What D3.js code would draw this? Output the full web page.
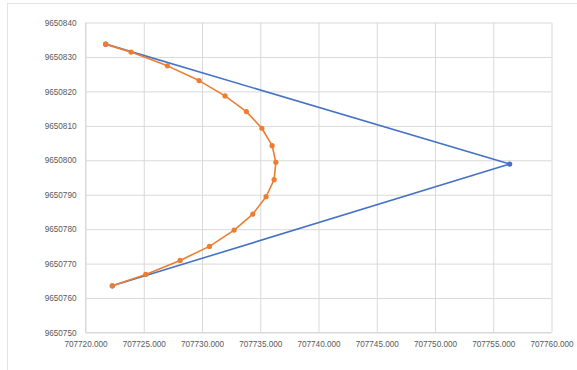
<!DOCTYPE html>
<html>
<head>
<meta charset="utf-8">
<script src="https://cdn.jsdelivr.net/npm/d3@7"></script>
<style>
  html, body { margin: 0; padding: 0; background: #fff; }
  svg { display: block; }
  .tick text { font-family: "Liberation Sans", Arial, sans-serif; font-size: 8.2px; fill: #595959; }
</style>
</head>
<body>
<svg id="chart" width="577" height="370"></svg>
<script>
// X tick labels and Y tick values
const xTicks = [707720, 707725, 707730, 707735, 707740, 707745, 707750, 707755, 707760];
const yTicks = [9650750, 9650760, 9650770, 9650780, 9650790, 9650800, 9650810, 9650820, 9650830, 9650840];

// Series 1 (blue): three vertices of the wedge
const blueX = [707721.74, 707756.41, 707722.30];
const blueY = [9650833.72, 9650798.90, 9650763.55];

// Series 2 (orange): curved arc of survey points
const orangeX = [707721.74, 707723.91, 707727.03, 707729.75, 707731.98, 707733.81, 707735.14, 707736.02, 707736.34,
                 707736.19, 707735.50, 707734.36, 707732.76, 707730.64, 707728.12, 707725.17, 707722.30];
const orangeY = [9650833.72, 9650831.40, 9650827.41, 9650823.14, 9650818.69, 9650814.13, 9650809.30, 9650804.24, 9650799.42,
                 9650794.36, 9650789.42, 9650784.39, 9650779.74, 9650775.00, 9650770.93, 9650766.86, 9650763.55];

const svg = d3.select("#chart");

// Chart frame
svg.append("rect")
  .attr("x", 7.5).attr("y", 3.5)
  .attr("width", 600).attr("height", 400)
  .attr("fill", "#fff").attr("stroke", "#e3e3e3").attr("stroke-width", 1);

const plot = { left: 85.5, right: 551.5, top: 22.5, bottom: 332.5 };

const x = d3.scaleLinear().domain([707720, 707760]).range([plot.left, plot.right]);
const y = d3.scaleLinear().domain([9650750, 9650840]).range([plot.bottom, plot.top]);

// Vertical gridlines + x axis labels
const xAxis = d3.axisBottom(x)
  .tickValues(xTicks)
  .tickFormat(d3.format(".3f"))
  .tickSize(-(plot.bottom - plot.top))
  .tickPadding(9);
const gx = svg.append("g").attr("transform", `translate(0,${plot.bottom})`).call(xAxis);
gx.select(".domain").remove();
gx.selectAll(".tick line").attr("stroke", "#d9d9d9");

// Horizontal gridlines + y axis labels
const yAxis = d3.axisLeft(y)
  .tickValues(yTicks)
  .tickFormat(d3.format("d"))
  .tickSize(-(plot.right - plot.left))
  .tickPadding(9);
const gy = svg.append("g").attr("transform", `translate(${plot.left},0)`).call(yAxis);
gy.select(".domain").remove();
gy.selectAll(".tick line").attr("stroke", "#d9d9d9");

// Axis lines
svg.append("line").attr("x1", plot.left).attr("x2", plot.left).attr("y1", plot.top).attr("y2", plot.bottom)
  .attr("stroke", "#d9d9d9");
svg.append("line").attr("x1", plot.left).attr("x2", plot.right).attr("y1", plot.bottom).attr("y2", plot.bottom)
  .attr("stroke", "#d9d9d9");

function drawSeries(xs, ys, color) {
  const pts = xs.map((v, i) => [v, ys[i]]);
  const line = d3.line().x(d => x(d[0])).y(d => y(d[1]));
  svg.append("path")
    .datum(pts)
    .attr("d", line)
    .attr("fill", "none")
    .attr("stroke", color)
    .attr("stroke-width", 1.6)
    .attr("stroke-linejoin", "round");
  svg.append("g").selectAll("circle")
    .data(pts)
    .join("circle")
    .attr("cx", d => x(d[0]))
    .attr("cy", d => y(d[1]))
    .attr("r", 2.6)
    .attr("fill", color);
}

drawSeries(blueX, blueY, "#4472C4");
drawSeries(orangeX, orangeY, "#ED7D31");
</script>
</body>
</html>
